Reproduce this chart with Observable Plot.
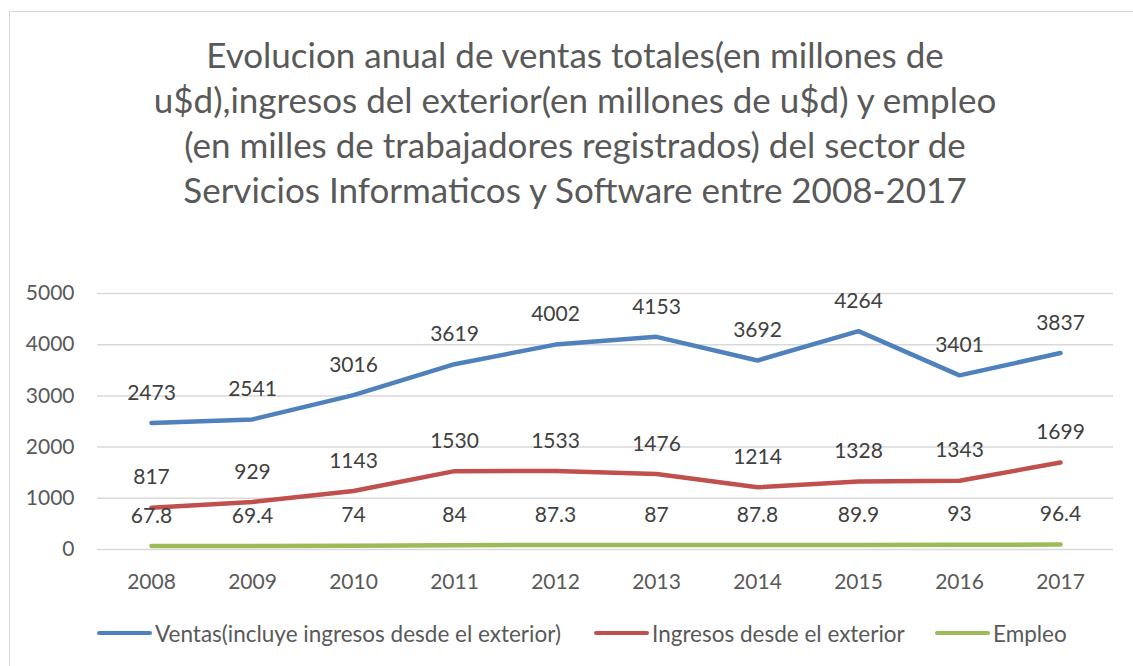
<!DOCTYPE html>
<html>
<head>
<meta charset="utf-8">
<script src="https://cdn.jsdelivr.net/npm/d3@7"></script>
<script src="https://cdn.jsdelivr.net/npm/@observablehq/plot@0.6"></script>
<style>
  html, body { margin: 0; padding: 0; background: #fff; width: 1133px; height: 666px; overflow: hidden; }
  body { position: relative; font-family: Lato, "Liberation Sans", sans-serif; }
  #frame { position: absolute; left: 9px; top: 11px; width: 1200px; height: 700px; border-left: 1.5px solid #d9d9d9; border-top: 1.5px solid #d9d9d9; box-sizing: border-box; }
  #title { position: absolute; left: 0; top: 32px; width: 1150px; text-align: center; color: #595959; font-size: 35px; line-height: 45px; }
  #chart { position: absolute; left: 0; top: 0; }
  #legend { position: absolute; left: 0; top: 620px; width: 1133px; height: 26px; color: #595959; font-size: 22.5px; }
  .item { position: absolute; top: 0; display: flex; align-items: center; height: 26px; white-space: nowrap; }
  .sw { display: inline-block; width: 55px; height: 4.5px; border-radius: 2px; margin-right: 3px; }
</style>
</head>
<body>
<div id="frame"></div>
<div id="chart"></div>
<div id="title"></div>
<div id="legend"></div>
<script>
const titleLines = [
  "Evolucion anual de ventas totales(en millones de",
  "u$d),ingresos del exterior(en millones de u$d) y empleo",
  "(en milles de trabajadores registrados) del sector de",
  "Servicios Informaticos y Software entre 2008-2017"
];
const years = ["2008","2009","2010","2011","2012","2013","2014","2015","2016","2017"];
const ventas = [2473, 2541, 3016, 3619, 4002, 4153, 3692, 4264, 3401, 3837];
const ingresos = [817, 929, 1143, 1530, 1533, 1476, 1214, 1328, 1343, 1699];
const empleo = [67.8, 69.4, 74, 84, 87.3, 87, 87.8, 89.9, 93, 96.4];
const yTicks = [0, 1000, 2000, 3000, 4000, 5000];
const seriesNames = ["Ventas(incluye ingresos desde el exterior)", "Ingresos desde el exterior", "Empleo"];
const seriesColors = ["#4f81bd", "#c0504d", "#9bbb59"];

const seriesValues = [ventas, ingresos, empleo];
const data = seriesNames.flatMap((name, i) =>
  years.map((year, j) => ({ series: name, year, value: seriesValues[i][j], label: String(seriesValues[i][j]) }))
);

document.getElementById("title").innerHTML = titleLines.map(t => `<div>${t}</div>`).join("");

const chart = Plot.plot({
  width: 1133,
  height: 666,
  marginLeft: 97,
  marginRight: 20,
  marginTop: 293,
  marginBottom: 117,
  style: { fontFamily: "Lato, 'Liberation Sans', sans-serif", background: "transparent", overflow: "visible" },
  x: { type: "point", domain: years, padding: 0.5, label: null },
  y: { domain: [0, 5000], label: null },
  color: { domain: seriesNames, range: seriesColors },
  marks: [
    Plot.ruleY(yTicks, { stroke: "#d9d9d9", strokeWidth: 1.5, strokeOpacity: 1 }),
    Plot.axisY({ ticks: yTicks, tickSize: 0, tickPadding: 23, fontSize: 21, fill: "#595959", tickFormat: d => String(d), label: null }),
    Plot.axisX({ tickSize: 0, tickPadding: 25, fontSize: 21, fill: "#595959", tickFormat: d => d, label: null }),
    Plot.line(data, { x: "year", y: "value", z: "series", stroke: "series", strokeWidth: 4.5, strokeLinejoin: "round", strokeLinecap: "round" }),
    Plot.text(data, { x: "year", y: "value", text: "label", dy: -30, fontSize: 21, fill: "#404040" })
  ]
});
document.getElementById("chart").appendChild(chart);

const legendPos = [97, 594, 935];
document.getElementById("legend").innerHTML = seriesNames.map((n, i) =>
  `<div class="item" style="left:${legendPos[i]}px"><span class="sw" style="background:${seriesColors[i]}"></span><span>${n}</span></div>`
).join("");
</script>
</body>
</html>
